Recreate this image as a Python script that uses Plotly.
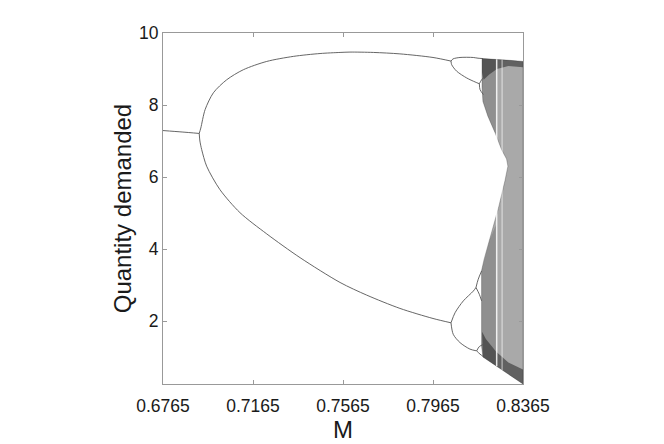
import plotly.graph_objects as go

# ---- tick labels / axes ----
x_ticks = [0.6765, 0.7165, 0.7565, 0.7965, 0.8365]
x_ticktext = ["0.6765", "0.7165", "0.7565", "0.7965", "0.8365"]
y_ticks = [2, 4, 6, 8, 10]

# ---- period-1 branch ----
p1_m = [0.6765, 0.6850, 0.6926]
p1_q = [7.29, 7.25, 7.21]

# ---- period-2 branches ----
p2_up_m = [0.6926, 0.6933, 0.6952, 0.6989, 0.7048, 0.7122, 0.7226, 0.7344, 0.7463, 0.7552, 0.7596, 0.7700, 0.7818, 0.7965, 0.8045]
p2_up_q = [7.21, 7.36, 7.87, 8.34, 8.70, 8.98, 9.21, 9.35, 9.43, 9.46, 9.47, 9.46, 9.42, 9.32, 9.22]
p2_lo_m = [0.6926, 0.6929, 0.6937, 0.6959, 0.7018, 0.7107, 0.7226, 0.7374, 0.7552, 0.7670, 0.7818, 0.7965, 0.8045]
p2_lo_q = [7.21, 7.00, 6.76, 6.30, 5.65, 5.01, 4.42, 3.76, 3.07, 2.72, 2.35, 2.07, 1.95]

# ---- period-4 branches ----
p4_a_m = [0.8045, 0.8054, 0.8085, 0.8144, 0.8165, 0.8187]
p4_a_q = [9.22, 9.28, 9.32, 9.32, 9.30, 9.29]
p4_b_m = [0.8045, 0.8048, 0.8070, 0.8115, 0.8152, 0.8171]
p4_b_q = [9.22, 9.12, 8.94, 8.75, 8.64, 8.59]
p4_c_m = [0.8045, 0.8063, 0.8100, 0.8144, 0.8156]
p4_c_q = [1.95, 2.23, 2.56, 2.83, 2.93]
p4_d_m = [0.8045, 0.8055, 0.8085, 0.8129, 0.8159]
p4_d_q = [1.95, 1.63, 1.40, 1.22, 1.17]

# ---- period-8 branches ----
p8_a_m = [0.8171, 0.8181, 0.8196]
p8_a_q = [8.59, 8.70, 8.80]
p8_b_m = [0.8171, 0.8174, 0.8189]
p8_b_q = [8.59, 8.43, 8.29]
p8_c_m = [0.8156, 0.8166, 0.8181]
p8_c_q = [2.93, 3.16, 3.39]
p8_d_m = [0.8156, 0.8171, 0.8181]
p8_d_q = [2.93, 2.74, 2.56]
p8_e_m = [0.8159, 0.8171, 0.8189]
p8_e_q = [1.17, 1.29, 1.35]
p8_f_m = [0.8159, 0.8174, 0.8189]
p8_f_q = [1.17, 1.08, 1.01]

# ---- chaotic region (outline) ----
chaos_m = [0.8183, 0.8249, 0.8307, 0.8365, 0.8365, 0.8187, 0.8181, 0.8181, 0.8181, 0.8181,
           0.8192, 0.8218, 0.8258, 0.8285, 0.8298, 0.8292, 0.8270, 0.8241, 0.8209, 0.8187,
           0.8183, 0.8183]
chaos_q = [9.29, 9.27, 9.24, 9.21, 0.25, 1.00, 1.30, 1.60, 2.50, 3.40,
           3.71, 4.27, 5.19, 5.90, 6.30, 6.50, 6.76, 7.23, 7.69, 8.10,
           8.50, 9.29]
# darker (left) parts of the two bands
mid_up_m = [0.8183, 0.8248, 0.8248, 0.8241, 0.8209, 0.8187, 0.8183, 0.8183]
mid_up_q = [9.29, 9.27, 7.20, 7.23, 7.69, 8.10, 8.50, 9.29]
mid_lo_m = [0.8187, 0.8248, 0.8248, 0.8240, 0.8218, 0.8192, 0.8181, 0.8181, 0.8187]
mid_lo_q = [1.00, 0.74, 4.70, 4.60, 4.27, 3.71, 3.40, 1.30, 1.00]
# densest parts of the chaotic region
dense_top_m = [0.8183, 0.8249, 0.8307, 0.8365, 0.8365, 0.8300, 0.8249, 0.8215, 0.8190, 0.8183]
dense_top_q = [9.29, 9.27, 9.24, 9.21, 9.05, 9.08, 9.00, 8.85, 8.70, 8.90]
dense_bot_m = [0.8187, 0.8365, 0.8365, 0.8300, 0.8245, 0.8200, 0.8183, 0.8187]
dense_bot_q = [1.00, 0.25, 0.65, 0.85, 1.15, 1.50, 1.70, 1.00]
# periodic windows (white streaks)
window_m = [0.8248, 0.8272]
window_lo = [0.74, 0.63]
window_hi = [9.27, 9.26]

line_col = "#555555"
fig = go.Figure()

fig.add_trace(go.Scatter(x=chaos_m, y=chaos_q, mode="lines", fill="toself",
                         line=dict(width=0.6, color="rgba(70,70,70,0.6)"),
                         fillcolor="#a9a9a9",
                         hoverinfo="skip", showlegend=False))
for mm, qq in [(mid_up_m, mid_up_q), (mid_lo_m, mid_lo_q)]:
    fig.add_trace(go.Scatter(x=mm, y=qq, mode="lines", fill="toself",
                             line=dict(width=0),
                             fillcolor="rgba(40,40,40,0.2)",
                             hoverinfo="skip", showlegend=False))
for mm, qq in [(dense_top_m, dense_top_q), (dense_bot_m, dense_bot_q)]:
    fig.add_trace(go.Scatter(x=mm, y=qq, mode="lines", fill="toself",
                             line=dict(width=0),
                             fillcolor="rgba(25,25,25,0.5)",
                             hoverinfo="skip", showlegend=False))
for wm, lo, hi, w in zip(window_m, window_lo, window_hi, [1.5, 0.8]):
    fig.add_trace(go.Scatter(x=[wm, wm], y=[lo, hi], mode="lines",
                             line=dict(width=w, color="rgba(255,255,255,0.85)"),
                             hoverinfo="skip", showlegend=False))

branches = [(p1_m, p1_q), (p2_up_m, p2_up_q), (p2_lo_m, p2_lo_q),
            (p4_a_m, p4_a_q), (p4_b_m, p4_b_q), (p4_c_m, p4_c_q), (p4_d_m, p4_d_q),
            (p8_a_m, p8_a_q), (p8_b_m, p8_b_q), (p8_c_m, p8_c_q), (p8_d_m, p8_d_q),
            (p8_e_m, p8_e_q), (p8_f_m, p8_f_q)]
for mm, qq in branches:
    fig.add_trace(go.Scatter(x=mm, y=qq, mode="lines",
                             line=dict(width=0.9, color=line_col, shape="spline", smoothing=0.8),
                             hoverinfo="skip", showlegend=False))

font_family = "Liberation Sans, Arial, sans-serif"
fig.update_layout(
    width=656, height=436,
    margin=dict(l=155, r=141, t=25, b=60, autoexpand=False),
    paper_bgcolor="white", plot_bgcolor="white",
    font=dict(family=font_family, color="#1a1a1a", size=17.5),
    showlegend=False,
)
fig.update_xaxes(range=[0.6765, 0.8365], tickvals=x_ticks, ticktext=x_ticktext,
                 ticks="inside", ticklen=4, tickcolor="#999", showline=True, linecolor="#999",
                 linewidth=1, mirror="ticks", showgrid=False, zeroline=False,
                 ticklabelstandoff=6,
                 title=dict(text="M", font=dict(size=24), standoff=0))
fig.update_yaxes(range=[0.25, 10], tickvals=y_ticks,
                 ticks="inside", ticklen=4, tickcolor="#999", showline=True, linecolor="#999",
                 linewidth=1, mirror="ticks", showgrid=False, zeroline=False,
                 title=dict(text="Quantity demanded", font=dict(size=24), standoff=0))

fig.write_html("out.html")
